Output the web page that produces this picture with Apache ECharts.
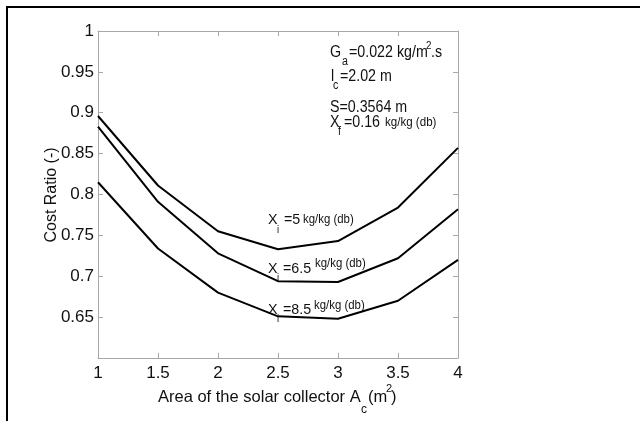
<!DOCTYPE html>
<html>
<head>
<meta charset="utf-8">
<script src="https://cdn.jsdelivr.net/npm/echarts@6/dist/echarts.min.js"></script>
<style>html,body{margin:0;padding:0;background:#fff}#c{width:640px;height:421px}</style>
</head>
<body>
<div id="c"></div>
<script>
const areas = [1, 1.5, 2, 2.5, 3, 3.5, 4];
const ratioXi5 = [0.896, 0.811, 0.755, 0.733, 0.743, 0.784, 0.857];
const ratioXi65 = [0.883, 0.791, 0.728, 0.694, 0.693, 0.722, 0.782];
const ratioXi85 = [0.815, 0.734, 0.680, 0.651, 0.648, 0.670, 0.720];
const xTicks = [1, 1.5, 2, 2.5, 3, 3.5, 4];
const yTicks = [0.65, 0.7, 0.75, 0.8, 0.85, 0.9, 0.95, 1];

const FF = 'Liberation Sans, Arial, sans-serif';
const chart = echarts.init(document.getElementById('c'), null, {renderer: 'canvas'});

function pair(arr) { return areas.map((x, i) => [x, arr[i]]); }
function t(text, x, y, size, sx, extra) {
  return Object.assign({type: 'text', x: x, y: y, scaleX: sx || 1, silent: true,
    style: {text: text, x: 0, y: 0, fontSize: size, fontFamily: FF, fill: '#111', verticalAlign: 'middle', align: 'left'}}, extra || {});
}
const fmt = v => String(+v.toFixed(2));
const grayAxis = {lineStyle: {color: '#a8a8a8', width: 1}};
const grayTick = {inside: true, length: 5, lineStyle: {color: '#a8a8a8'}};
const series = [ratioXi5, ratioXi65, ratioXi85].map(d => ({
  type: 'line', data: pair(d), symbol: 'none', lineStyle: {color: '#000', width: 2}, silent: true, animation: false
}));

const A = 0.89, C = 0.95;
const yName = t('Cost Ratio (-)', 52, 195, 16, 1, {rotation: Math.PI / 2});
yName.style.align = 'center';

chart.setOption({
  animation: false,
  backgroundColor: '#fff',
  grid: {left: 98, right: 182, top: 31, bottom: 63, show: false},
  xAxis: [{
    type: 'value', min: 1, max: 4, interval: 0.5, position: 'bottom',
    axisLine: grayAxis, axisTick: grayTick, splitLine: {show: false},
    axisLabel: {color: '#111', fontSize: 17, fontFamily: FF, margin: 7,
      formatter: v => (xTicks.some(x => Math.abs(x - v) < 1e-6) ? fmt(v) : '')}
  }, {
    type: 'value', min: 1, max: 4, interval: 0.5, position: 'top',
    axisLine: grayAxis, axisTick: grayTick, splitLine: {show: false}, axisLabel: {show: false}
  }],
  yAxis: [{
    type: 'value', min: 0.6, max: 1, interval: 0.05, position: 'left',
    axisLine: grayAxis, axisTick: grayTick, splitLine: {show: false},
    axisLabel: {color: '#111', fontSize: 17, fontFamily: FF, margin: 4,
      formatter: v => (yTicks.some(y => Math.abs(y - v) < 1e-6) ? fmt(v) : '')}
  }, {
    type: 'value', min: 0.6, max: 1, interval: 0.05, position: 'right',
    axisLine: grayAxis, axisTick: grayTick, splitLine: {show: false}, axisLabel: {show: false}
  }],
  series: series,
  graphic: [
    {type: 'line', shape: {x1: 6, y1: 7, x2: 640, y2: 7}, style: {stroke: '#000', lineWidth: 2}},
    {type: 'line', shape: {x1: 7, y1: 6, x2: 7, y2: 421}, style: {stroke: '#000', lineWidth: 2}},
    yName,
    // x axis name
    t('Area of the solar collector A', 158, 397, 16.5),
    t('c', 361, 410, 12),
    t('(m', 368, 397, 16.5),
    t('2', 386, 389, 11),
    t(')', 391, 397, 16.5),
    // parameters block
    t('G', 330, 53, 16, A),
    t('a', 342, 62, 12, A),
    t('=0.022 kg/m', 349, 53, 16, A),
    t('2', 426, 46, 11, A),
    t('.s', 431, 53, 16, A),
    t('l', 331, 77, 16, A),
    t('c', 333, 86, 12, A),
    t('=2.02 m', 340, 77, 16, A),
    t('S=0.3564 m', 330, 108, 16, A),
    t('X', 330, 123, 16, A),
    t('f', 338, 132, 12, A),
    t('=0.16', 344, 123, 16, A),
    t('kg/kg (db)', 385, 122, 13, A),
    // curve labels
    t('X', 268, 220, 15, C),
    t('i', 277, 230, 10, C),
    t('=5', 284, 220, 15, C),
    t('kg/kg (db)', 303, 220, 12, C),
    t('X', 268, 269, 15, C),
    t('i', 277, 278, 10, C),
    t('=6.5', 283, 269, 15, C),
    t('kg/kg (db)', 315, 264, 12, C),
    t('X', 268, 310, 15, C),
    t('i', 277, 319, 10, C),
    t('=8.5', 283, 310, 15, C),
    t('kg/kg (db)', 314, 306, 12, C)
  ]
});
</script>
</body>
</html>
